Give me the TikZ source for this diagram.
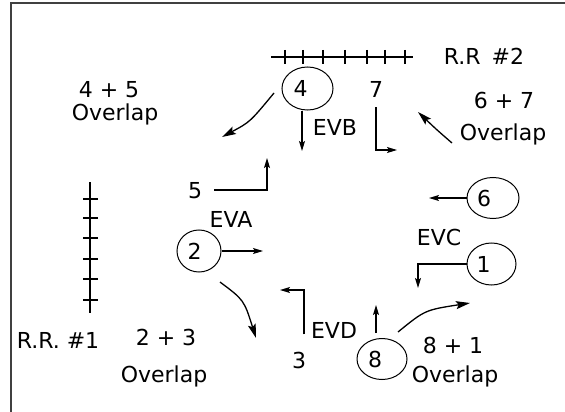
\documentclass[tikz,border=0pt]{standalone}
\usepackage{fontspec}
\setmainfont{DejaVu Sans}
\usetikzlibrary{arrows.meta,shapes.geometric}

\begin{document}
\begin{tikzpicture}[
  x=1pt, y=-1pt,
  every node/.style={font=\fontsize{22}{24}\selectfont, inner sep=0pt},
  txt/.style={anchor=base},
  zone/.style={ellipse, draw=black, line width=1pt, minimum width=50pt, minimum height=42pt},
  track/.style={line width=1.3pt},
  arrow/.style={-{Stealth[length=10pt, width=6pt, inset=2pt]}, line width=1.3pt},
  bowarrow/.style={-{Stealth[length=14pt, width=8pt, inset=2.5pt]}, line width=1.3pt}
]
\useasboundingbox (0,0) rectangle (565,412);

% --- FRAME ---
\draw[black!75, line width=1.5pt] (11,412) -- (11,3) -- (565,3);

% --- RAILROAD TRACKS ---
\draw[track] (271,57) -- (413,57);
\foreach \x in {285,303,323,345,367,385,405} \draw[track] (\x,50) -- (\x,64);
\draw[track] (90,182) -- (90,313);
\foreach \y in {199,218,238,259,279,300} \draw[track] (83,\y) -- (98,\y);
\node[txt] (rr2) at (484,65) {R.R\hspace{0.5em}\#2};
\node[txt] (rr1) at (58,348) {R.R. \#1};

% --- EVENT ZONES (circled) ---
\node[zone, minimum width=51pt, minimum height=43pt, label={[xshift=-7pt]center:4}] (z4) at (307.5,88.5) {};
\node[zone, minimum width=44pt, label={[xshift=-4.5pt]center:2}] (z2) at (199,251) {};
\node[zone, minimum height=41pt, label={[xshift=-7pt]center:8}] (z8) at (382,359) {};
\node[zone, minimum width=49pt, label={[xshift=-8pt]center:1}] (z1) at (491.5,264) {};
\node[zone, minimum width=52pt, minimum height=41pt, label={[xshift=-9pt]center:6}] (z6) at (493,198) {};

% --- PLAIN NUMBERS AND SIGNAL NAMES ---
\node[txt] (n5) at (195,198) {5};
\node[txt] (n7) at (376,97) {7};
\node[txt] (n3) at (299,368) {3};
\node[txt] (eva) at (231,227) {EVA};
\node[txt] (evb) at (335,135) {EVB};
\node[txt] (evc) at (439,245) {EVC};
\node[txt] (evd) at (334,338) {EVD};

% --- OVERLAP NOTES ---
\node[txt] (p45) at (109,97.5) {4 + 5};
\node[txt] (o45) at (115,120) {Overlap};
\node[txt] (p67) at (504,108) {6 + 7};
\node[txt] (o67) at (503,140) {Overlap};
\node[txt] (p23) at (166,345) {2 + 3};
\node[txt] (o23) at (164,382) {Overlap};
\node[txt] (p81) at (453,353) {8 + 1};
\node[txt] (o81) at (455,382) {Overlap};

% --- FREE ENDS ---
\coordinate (s45) at (274,93);
\coordinate (e45) at (222,137);
\coordinate (eb) at (302,151);
\coordinate (e7) at (397,150);
\coordinate (s67) at (452,143);
\coordinate (e67) at (418,112);
\coordinate (e5) at (267,158);
\coordinate (e2) at (263,251);
\coordinate (s23) at (220,282);
\coordinate (e23) at (256,338);
\coordinate (e3) at (280,290);
\coordinate (e8) at (376,305);
\coordinate (s81) at (398,332);
\coordinate (e81) at (470,303);
\coordinate (e1) at (418,288);
\coordinate (e6) at (429,198);

% --- MOVEMENTS ---
\draw[bowarrow] (s45) .. controls (250,122) .. (e45);
\draw[arrow] (z4.south -| eb) -- (eb);
\draw[arrow, shorten <=10pt] (n7.south) |- (e7);
\draw[bowarrow] (s67) .. controls (437,130) .. (e67);
\draw[arrow] ([xshift=12pt]n5.east) -| (e5);
\draw[arrow] (z2.east) -- (e2);
\draw[bowarrow] (s23) .. controls (244,300) .. (e23);
\draw[arrow, shorten <=17pt] ([xshift=5pt]n3.north) |- (e3);
\draw[arrow, shorten <=5pt] (z8.north -| e8) -- (e8);
\draw[bowarrow] (s81) .. controls (425,310) .. (e81);
\draw[arrow] (z1.west) -| (e1);
\draw[arrow] (z6.west) -- (e6);

\end{tikzpicture}
\end{document}
